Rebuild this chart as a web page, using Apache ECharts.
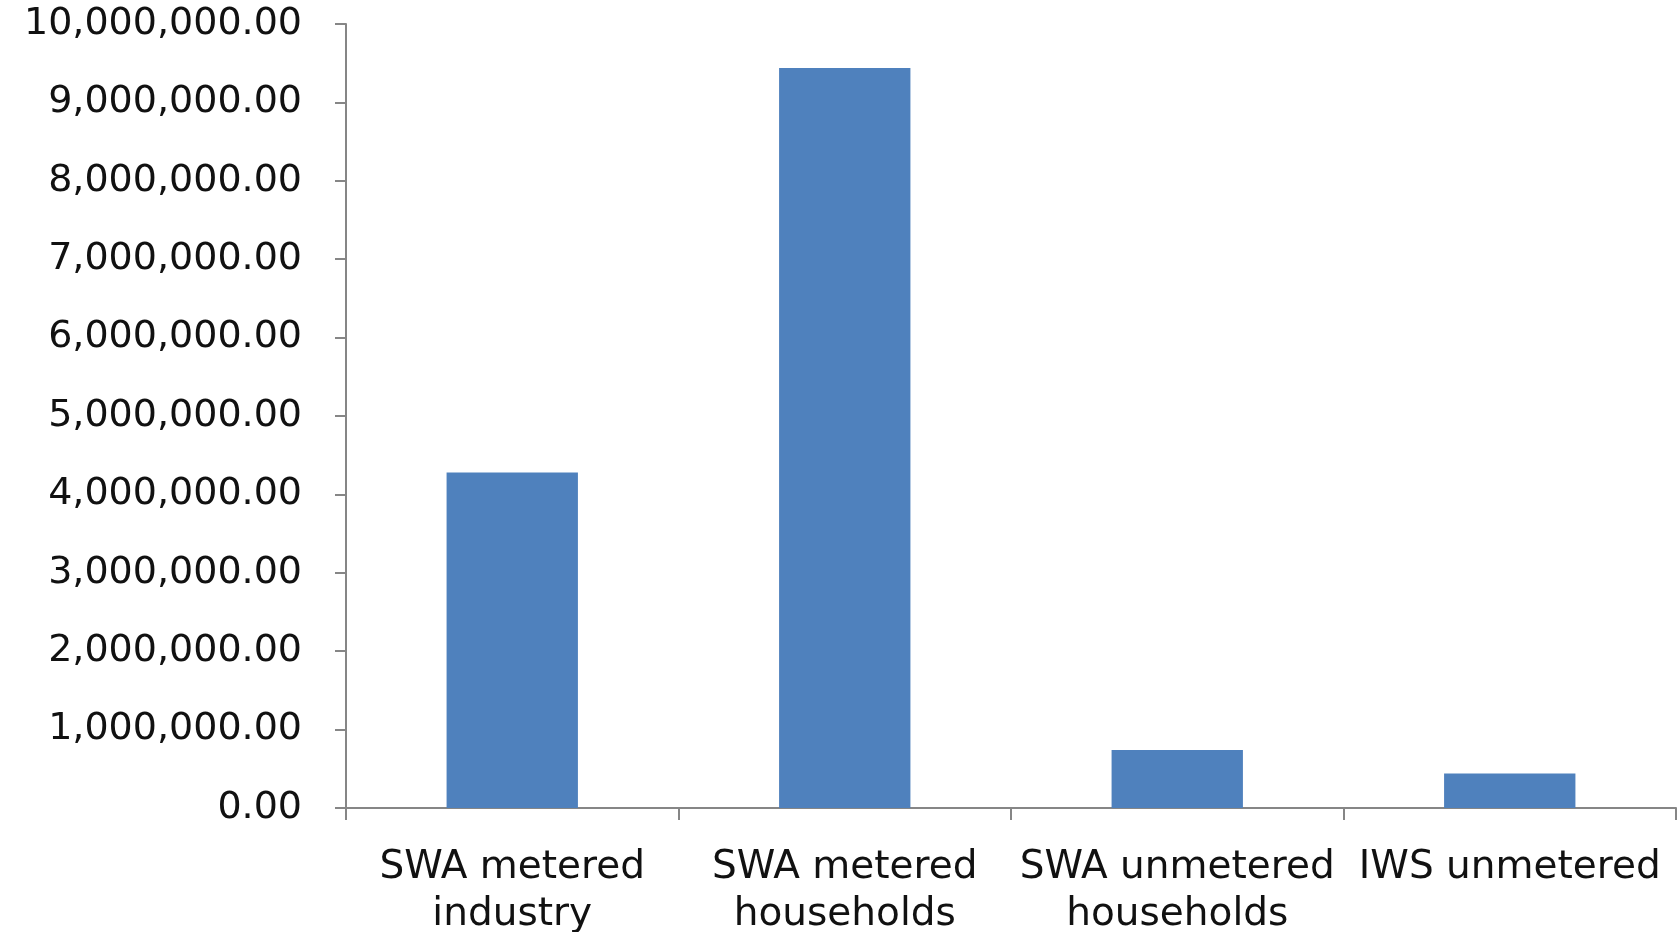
<!DOCTYPE html>
<html>
<head>
<meta charset="utf-8">
<script src="https://cdn.jsdelivr.net/npm/echarts@6/dist/echarts.min.js"></script>
<style>
html,body{margin:0;padding:0;background:#fff;}
#chart{width:1679px;height:932px;}
</style>
</head>
<body>
<div id="chart"></div>
<script>
var categories = ['SWA metered\nindustry', 'SWA metered\nhouseholds', 'SWA unmetered\nhouseholds', 'IWS unmetered'];
var values = [4280000, 9440000, 740000, 440000];
var yMin = 0, yMax = 10000000, yStep = 1000000;

function fmt(v) {
  return Number(v).toLocaleString('en-US', {minimumFractionDigits: 2, maximumFractionDigits: 2});
}

var chart = echarts.init(document.getElementById('chart'));
chart.setOption({
  animation: false,
  backgroundColor: '#ffffff',
  grid: {left: 346, right: 3, top: 24, bottom: 124, containLabel: false, outerBoundsMode: 'none'},
  xAxis: {
    type: 'category',
    data: categories,
    boundaryGap: true,
    axisLine: {lineStyle: {color: '#868686', width: 2}},
    axisTick: {show: true, length: 12, lineStyle: {color: '#868686', width: 2}},
    axisLabel: {
      interval: 0,
      margin: 36,
      fontFamily: 'DejaVu Sans',
      fontSize: 39,
      lineHeight: 47,
      color: '#111111'
    },
    splitLine: {show: false}
  },
  yAxis: {
    type: 'value',
    min: yMin,
    max: yMax,
    interval: yStep,
    axisLine: {show: true, lineStyle: {color: '#868686', width: 2}},
    axisTick: {show: true, length: 11, lineStyle: {color: '#868686', width: 2}},
    axisLabel: {
      margin: 44,
      formatter: fmt,
      fontFamily: 'DejaVu Sans',
      fontSize: 38,
      color: '#111111'
    },
    splitLine: {show: false}
  },
  series: [{
    type: 'bar',
    data: values,
    barWidth: '39.5%',
    itemStyle: {color: '#4F81BD'}
  }]
});
</script>
</body>
</html>
